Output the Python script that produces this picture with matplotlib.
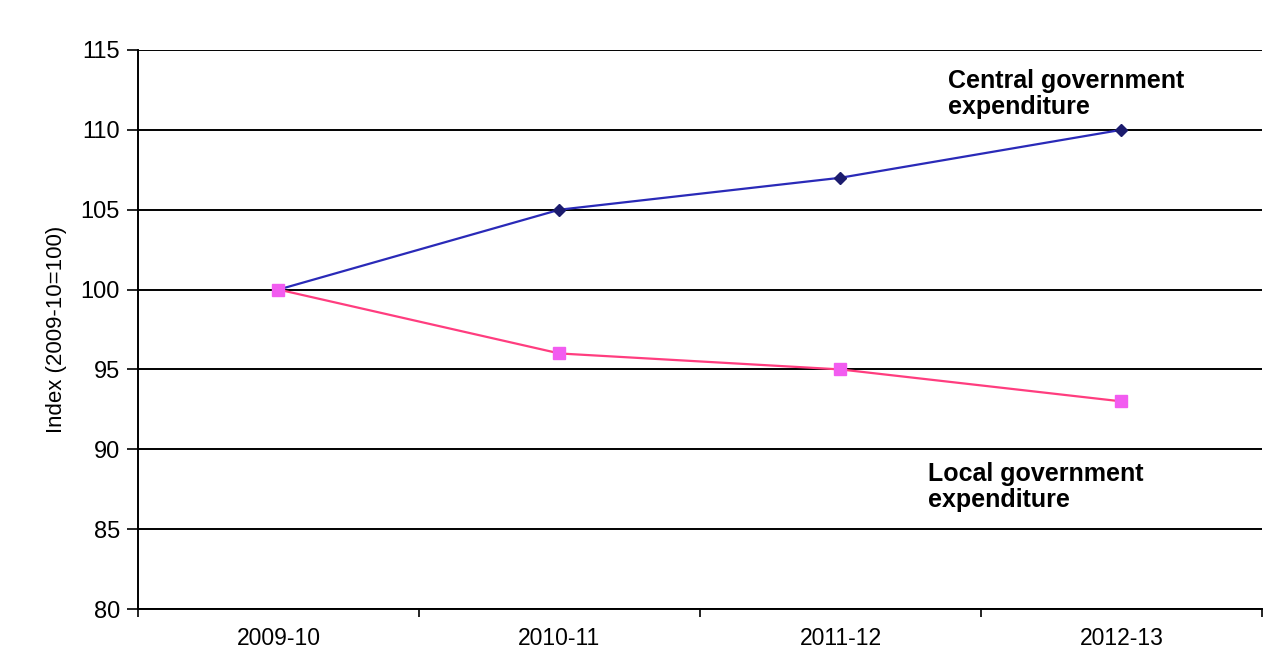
import matplotlib
matplotlib.use("Agg")
import matplotlib.pyplot as plt
from matplotlib.ticker import FixedLocator, NullFormatter

plt.rcParams['font.family'] = ['Liberation Sans', 'DejaVu Sans']

years = ["2009-10", "2010-11", "2011-12", "2012-13"]
central = [100, 105, 107, 110]
local = [100, 96, 95, 93]
y_ticks = [80, 85, 90, 95, 100, 105, 110, 115]

fig = plt.figure(figsize=(12.66, 6.55), dpi=100)
ax = fig.add_axes([0.109, 0.0702, 0.8878, 0.8535])

x = list(range(len(years)))
ax.plot(x, central, color='#2a2ab8', lw=1.6, marker='D', ms=6,
        markerfacecolor='#1c1c6e', markeredgecolor='#1c1c6e', zorder=3)
ax.plot(x, local, color='#ff3d7f', lw=1.6, marker='s', ms=9,
        markerfacecolor='#f25cf0', markeredgecolor='#f25cf0', zorder=3)

ax.set_xlim(-0.5, len(years) - 0.5)
ax.set_ylim(80, 115)
ax.set_yticks(y_ticks)
ax.yaxis.grid(True, color='black', lw=1.4)
ax.set_axisbelow(True)

ax.set_xticks(x)
ax.set_xticklabels(years)
ax.xaxis.set_minor_locator(FixedLocator([i - 0.5 for i in range(len(years) + 1)]))
ax.xaxis.set_minor_formatter(NullFormatter())
ax.tick_params(axis='x', which='major', length=0, pad=13, labelsize=16.5)
ax.tick_params(axis='x', which='minor', length=6, width=1.2, direction='out')
ax.tick_params(axis='y', length=8, width=1.2, direction='out', pad=5, labelsize=17)

for side in ('top', 'right'):
    ax.spines[side].set_visible(False)
for side in ('left', 'bottom'):
    ax.spines[side].set_linewidth(1.4)

ax.set_ylabel("Index (2009-10=100)", fontsize=16, labelpad=10)

ax.text(2.384, 112.25, "Central government\nexpenditure", fontsize=18,
        fontweight='bold', va='center', ha='left', linespacing=1.1)
ax.text(2.313, 87.65, "Local government\nexpenditure", fontsize=18,
        fontweight='bold', va='center', ha='left', linespacing=1.1)

fig.savefig("out.png", dpi=100, facecolor='white')
